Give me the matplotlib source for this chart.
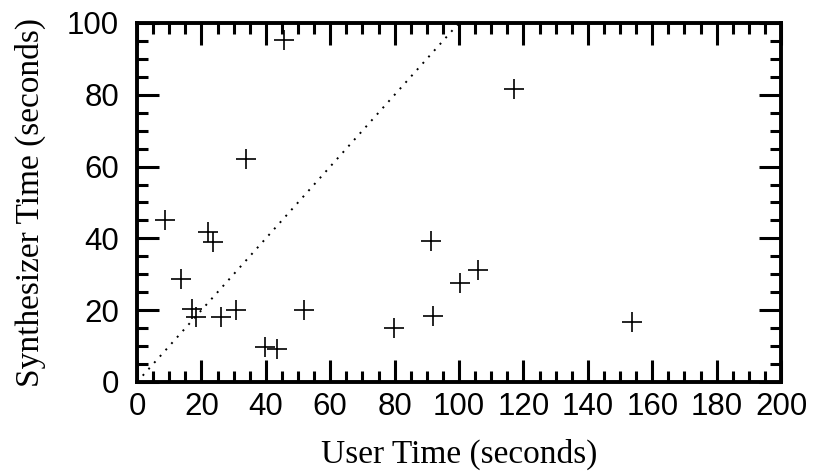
import numpy as np
import matplotlib.pyplot as plt
from matplotlib.ticker import MultipleLocator

# user time vs synthesizer time, seconds
user_time = [8.7, 45.7, 33.7, 22.1, 23.7, 13.7, 17.0, 18.3, 26.1, 30.6,
             51.9, 39.8, 43.6, 79.9, 91.3, 92.0, 100.3, 106.0, 153.6, 117.1]
synth_time = [45.1, 95.3, 62.1, 41.9, 39.1, 28.7, 20.2, 18.2, 18.2, 20.0,
              20.0, 9.8, 9.1, 15.1, 39.2, 18.4, 27.5, 31.2, 16.8, 81.6]
diag = [0, 100]

fig = plt.figure(figsize=(8.18, 4.73), dpi=100)
ax = fig.add_axes([0.1675, 0.1924, 0.7873, 0.7590])

# y = x reference line
ax.plot(diag, diag, color='black', lw=1.4, linestyle=(0, (1, 3.4)))
ax.plot(user_time, synth_time, linestyle='none', marker='+',
        markersize=15, markeredgewidth=1.2, color='black')

ax.set_xlim(0, 200)
ax.set_ylim(0, 100)
ax.xaxis.set_major_locator(MultipleLocator(20))
ax.xaxis.set_minor_locator(MultipleLocator(5))
ax.yaxis.set_major_locator(MultipleLocator(20))
ax.yaxis.set_minor_locator(MultipleLocator(5))

for s in ax.spines.values():
    s.set_linewidth(2.8)

ax.tick_params(which='both', direction='in', top=True, right=True, width=2.2)
ax.tick_params(which='major', length=15.5)
ax.tick_params(which='minor', length=8)
ax.tick_params(axis='x', which='major', pad=7)
ax.tick_params(axis='y', which='major', pad=13)
for lbl in ax.get_xticklabels() + ax.get_yticklabels():
    lbl.set_fontfamily('Liberation Sans')
    lbl.set_fontsize(22.5)

ax.set_xlabel('User Time (seconds)', fontfamily='Liberation Serif',
              fontsize=24, labelpad=12)
ax.set_ylabel('Synthesizer Time (seconds)', fontfamily='Liberation Serif',
              fontsize=24, labelpad=15)

plt.savefig('out.png', dpi=100)
